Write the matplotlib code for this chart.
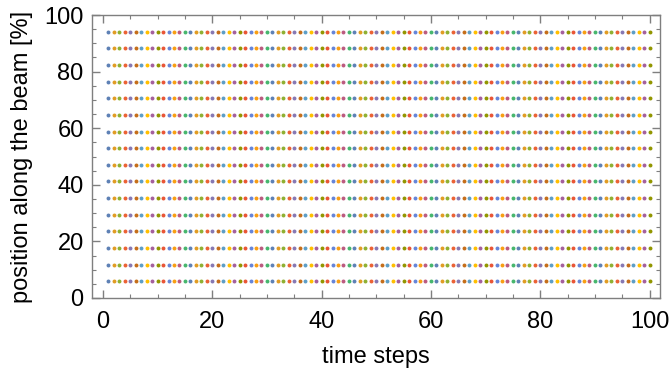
import matplotlib.pyplot as plt
import numpy as np
from matplotlib.ticker import MultipleLocator

plt.rcParams["font.family"] = ["Liberation Sans", "DejaVu Sans"]

# sensor positions along the beam [%] (rows of dots)
positions = [5.88, 11.76, 17.65, 23.53, 29.41, 35.29, 41.18, 47.06,
             52.94, 58.82, 64.71, 70.59, 76.47, 82.35, 88.24, 94.12]
time_steps = np.arange(1, 101)

# default Mathematica-like palette, one colour per time step (cycled)
palette = ["#5E81B5", "#E19C24", "#8FB032", "#EB6235", "#8778B3",
           "#C56E1A", "#5D9EC7", "#FFBF00", "#A5609D", "#929600",
           "#E95536", "#6685D9", "#F89F13", "#BC5B80", "#47B66D"]

fig = plt.figure(figsize=(6.7, 3.77), dpi=100)
ax = fig.add_axes([92 / 670, 1 - 298 / 377, 568 / 670, 283 / 377])

for i, t in enumerate(time_steps):
    ax.scatter(np.full(len(positions), t), positions, s=8,
               color=palette[i % len(palette)], linewidths=0, zorder=3)

ax.set_xlim(-2, 101.9)
ax.set_ylim(0, 100)
ax.xaxis.set_major_locator(MultipleLocator(20))
ax.xaxis.set_minor_locator(MultipleLocator(5))
ax.yaxis.set_major_locator(MultipleLocator(20))
ax.yaxis.set_minor_locator(MultipleLocator(5))

frame = "#7f7f7f"
for side in ax.spines.values():
    side.set_color(frame)
    side.set_linewidth(1.0)
ax.tick_params(which="both", direction="in", top=True, right=True,
               color=frame, labelsize=17, labelcolor="black")
ax.tick_params(axis="x", pad=9)
ax.tick_params(axis="y", pad=6)
ax.tick_params(which="major", length=6, width=1.0)
ax.tick_params(which="minor", length=3, width=0.8)

ax.set_xlabel("time steps", fontsize=17, labelpad=10)
ax.set_ylabel("position along the beam [%]", fontsize=17, labelpad=8)

fig.savefig("out.png", dpi=100)
